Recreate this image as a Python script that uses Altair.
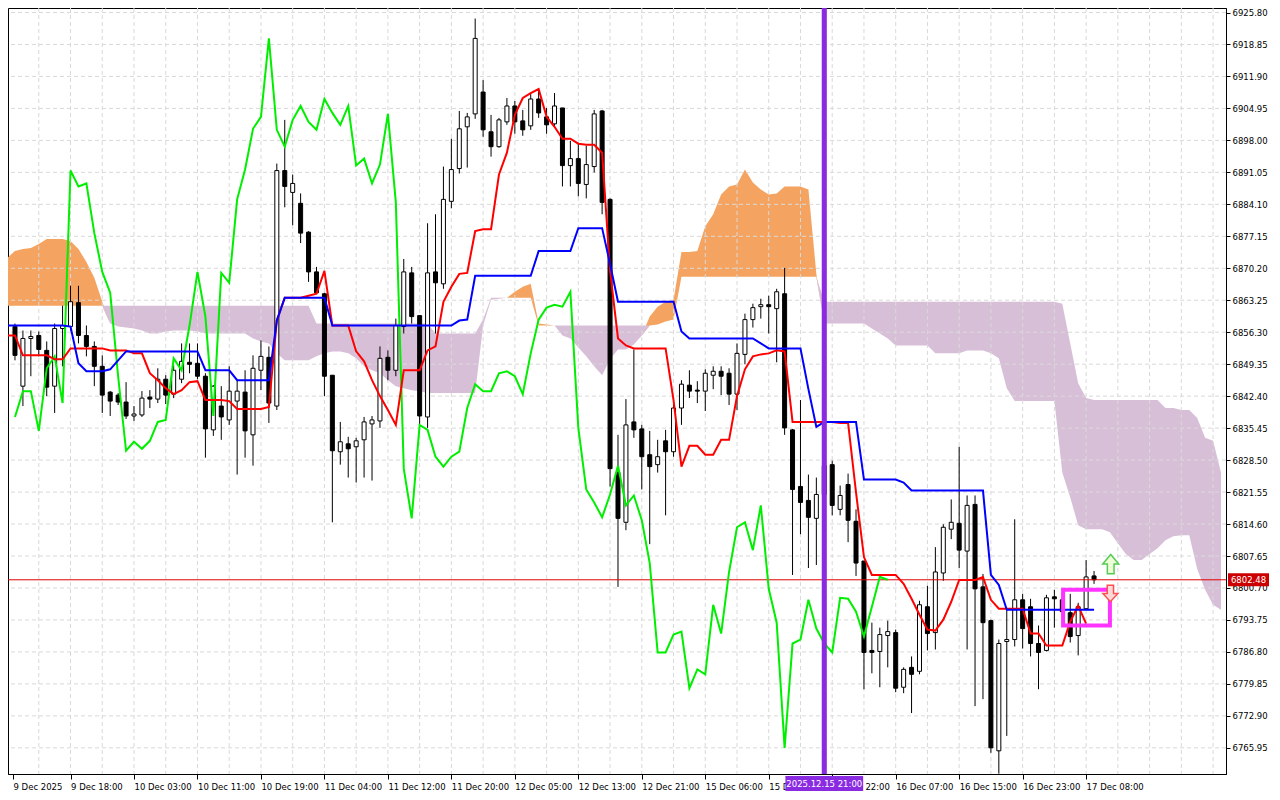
import altair as alt
import pandas as pd

# ---------------- data (hourly bars, index 1..137) ----------------
opens = [6857.53,6844.57,6854.94,6855.59,6852.35,6844.57,6857.10,6857.53,6862.72,6855.59,
6853.21,6848.89,6843.28,6842.63,6841.12,6838.09,6838.31,6842.20,6841.76,6846.08,
6842.84,6846.08,6849.76,6849.54,6846.73,6835.07,6840.25,6837.23,6841.33,6843.28,
6833.99,6848.03,6850.84,6840.25,6891.44,6886.69,6884.32,6878.05,6869.41,6864.66,
6846.95,6830.32,6832.04,6831.40,6832.91,6836.36,6837.01,6850.84,6848.03,6857.53,
6869.20,6859.91,6837.88,6869.41,6866.82,6884.75,6891.88,6900.95,6903.76,6908.51,
6899.87,6896.63,6902.03,6905.48,6902.24,6901.16,6907.00,6903.11,6901.60,6905.05,
6892.52,6894.04,6888.42,6892.31,6904.40,6885.18,6825.78,6814.98,6836.80,6835.28,
6829.67,6827.51,6832.69,6830.32,6839.82,6844.79,6843.71,6843.49,6846.95,6847.81,
6847.38,6842.84,6851.48,6859.04,6861.85,6862.28,6861.42,6864.66,6835.07,6822.76,
6819.73,6815.84,6821.03,6827.51,6817.79,6823.19,6815.20,6806.56,6787.12,6786.90,
6790.36,6791.00,6779.12,6783.44,6782.58,6796.62,6791.00,6803.96,6813.47,6814.76,
6808.72,6818.87,6800.94,6793.60,6765.30,6789.06,6789.49,6798.13,6796.62,6788.63,
6787.12,6798.78,6798.13,6795.32,6790.36,6796.19,6803.32]
highs = [6858.18,6856.67,6856.67,6856.45,6854.29,6858.18,6862.07,6866.39,6866.39,6857.75,
6854.29,6851.27,6843.49,6843.06,6845.44,6840.25,6843.49,6843.71,6848.46,6846.95,
6849.11,6853.86,6853.86,6853.86,6847.38,6844.79,6844.57,6848.89,6845.87,6848.03,
6851.27,6854.51,6853.21,6892.96,6902.46,6890.58,6886.48,6878.27,6870.49,6864.88,
6846.95,6836.80,6833.56,6833.34,6837.88,6838.09,6853.21,6852.35,6859.26,6872.22,
6870.49,6859.91,6879.99,6881.94,6892.31,6898.36,6904.40,6903.97,6924.49,6911.10,
6903.54,6902.89,6907.21,6906.56,6904.62,6908.08,6908.72,6905.05,6908.29,6905.05,
6897.92,6897.28,6896.84,6904.62,6904.62,6885.40,6833.99,6841.76,6852.56,6836.15,
6834.85,6832.91,6835.07,6841.12,6845.87,6848.03,6845.65,6848.24,6848.89,6848.89,
6848.46,6853.86,6860.34,6862.50,6863.58,6864.23,6865.74,6870.28,6835.28,6841.55,
6825.35,6824.70,6829.02,6828.37,6822.97,6825.56,6817.79,6806.56,6793.16,6792.08,
6793.60,6791.65,6783.44,6785.82,6797.92,6801.16,6809.58,6814.55,6819.95,6831.40,
6820.81,6820.81,6803.75,6793.81,6789.49,6796.19,6815.63,6799.43,6798.35,6792.52,
6799.21,6800.29,6799.43,6799.43,6797.48,6806.77,6804.40]
lows = [6850.19,6840.25,6846.73,6851.05,6842.41,6838.74,6848.89,6856.67,6853.86,6851.05,
6844.57,6838.74,6838.09,6840.47,6837.44,6837.01,6837.88,6839.82,6840.90,6840.68,
6841.98,6845.22,6847.38,6846.08,6829.02,6833.77,6832.91,6836.15,6825.35,6829.02,
6827.29,6843.71,6836.58,6839.39,6883.45,6879.56,6875.68,6867.25,6864.66,6842.41,
6814.98,6827.51,6824.70,6823.62,6824.70,6824.05,6835.50,6845.87,6846.73,6856.02,
6858.18,6836.36,6835.50,6856.02,6865.74,6883.24,6890.80,6892.09,6902.68,6898.79,
6894.47,6896.41,6901.38,6899.44,6899.00,6900.30,6902.89,6899.44,6900.95,6887.99,
6887.99,6885.83,6885.40,6891.01,6881.94,6822.76,6800.94,6813.25,6833.34,6822.11,
6810.23,6825.78,6816.49,6829.24,6836.15,6841.98,6840.90,6839.17,6843.92,6842.63,
6840.47,6839.39,6849.32,6857.32,6859.26,6856.02,6849.76,6833.99,6803.53,6812.39,
6805.04,6805.69,6819.30,6816.49,6816.49,6810.66,6803.32,6778.69,6782.15,6779.12,
6783.44,6778.04,6777.83,6773.51,6781.93,6787.12,6787.33,6802.24,6811.31,6805.04,
6787.33,6775.02,6776.53,6764.87,6760.33,6768.54,6787.98,6787.55,6785.82,6778.69,
6786.90,6792.08,6794.24,6788.84,6786.04,6795.97,6801.59]
closes = [6851.27,6854.94,6855.37,6852.56,6844.36,6857.10,6857.75,6862.93,6855.59,6853.21,
6848.89,6842.63,6841.33,6841.12,6838.09,6838.52,6841.98,6841.76,6846.08,6842.63,
6848.03,6849.97,6849.32,6846.73,6835.28,6844.57,6837.88,6843.49,6843.49,6834.85,
6848.46,6851.05,6840.90,6891.44,6887.99,6888.64,6877.84,6869.41,6864.88,6846.73,
6830.53,6832.48,6830.96,6832.69,6836.80,6837.23,6850.62,6848.03,6857.75,6869.41,
6859.69,6838.09,6869.20,6867.04,6885.18,6891.66,6900.52,6903.11,6920.17,6900.30,
6896.63,6902.46,6905.48,6902.03,6900.30,6907.00,6903.97,6901.38,6905.48,6892.52,
6894.04,6888.64,6892.74,6903.76,6884.53,6826.64,6815.84,6836.15,6835.07,6829.24,
6827.08,6829.24,6830.32,6839.82,6845.00,6843.49,6843.49,6847.38,6847.81,6846.73,
6842.84,6851.70,6859.04,6861.64,6862.28,6861.85,6865.09,6835.50,6822.11,6819.30,
6816.06,6821.03,6827.29,6818.65,6820.81,6815.41,6806.12,6786.68,6786.68,6790.57,
6791.22,6778.91,6783.01,6781.93,6797.05,6790.79,6804.18,6813.90,6814.98,6808.93,
6818.65,6800.51,6793.16,6765.95,6788.63,6789.49,6798.13,6791.87,6788.63,6786.68,
6798.56,6798.35,6795.54,6790.14,6796.62,6803.10,6802.48]

# Tenkan-sen, bars 0..136
tenkan = [6855.59,6855.59,6851.27,6851.27,6851.27,6851.27,6850.40,6850.40,6852.78,6852.78,
6852.78,6852.78,6852.78,6852.35,6852.35,6852.35,6851.70,6851.70,6847.38,6845.87,
6844.14,6842.84,6843.71,6845.44,6845.65,6841.55,6841.55,6841.55,6841.33,6839.60,
6839.60,6839.60,6839.60,6840.04,6858.83,6863.80,6863.80,6863.80,6864.23,6864.66,
6869.63,6857.75,6857.75,6857.75,6852.13,6849.97,6845.87,6842.41,6839.39,6836.15,
6848.03,6848.03,6848.03,6852.35,6853.21,6862.93,6866.17,6868.98,6869.20,6878.27,
6878.70,6878.70,6890.58,6895.33,6903.54,6907.21,6908.29,6909.16,6903.11,6900.95,
6898.36,6898.36,6897.28,6897.06,6897.06,6895.33,6869.63,6854.94,6853.43,6852.78,
6852.78,6852.78,6852.78,6852.78,6841.55,6827.08,6831.61,6831.61,6829.67,6829.67,
6832.91,6832.91,6842.41,6848.24,6851.05,6851.48,6851.70,6852.35,6852.13,6836.80,
6836.80,6836.80,6836.80,6836.80,6836.80,6836.58,6836.58,6821.46,6807.42,6803.53,
6803.53,6803.53,6803.53,6801.59,6798.35,6794.89,6791.65,6791.44,6793.81,6797.70,
6802.45,6802.45,6802.45,6803.10,6798.13,6796.19,6796.19,6796.19,6796.19,6790.79,
6790.79,6788.20,6788.20,6788.20,6793.38,6796.84,6792.95]

# Kijun-sen, bars 0..137
kijun = [6857.75,6857.75,6857.75,6857.75,6857.75,6857.75,6857.75,6857.75,6857.53,6849.54,
6847.81,6847.81,6847.81,6848.24,6850.19,6852.13,6852.13,6852.13,6852.13,6852.13,
6852.13,6852.13,6852.13,6852.13,6852.13,6848.03,6848.03,6848.03,6848.03,6845.87,
6845.87,6845.87,6845.87,6845.87,6858.83,6863.80,6863.80,6863.80,6863.80,6863.80,
6863.80,6857.75,6857.75,6857.75,6857.75,6857.75,6857.75,6857.75,6857.75,6857.75,
6857.75,6857.75,6857.75,6857.75,6857.75,6857.75,6857.75,6858.83,6859.04,6868.55,
6868.55,6868.55,6868.55,6868.55,6868.55,6868.55,6868.55,6873.95,6873.95,6873.95,
6873.95,6873.95,6878.92,6878.92,6878.92,6878.92,6871.14,6862.93,6862.93,6862.93,
6862.93,6862.93,6862.93,6862.93,6862.93,6856.45,6854.94,6854.94,6854.94,6854.94,
6854.94,6854.94,6854.94,6854.94,6854.94,6853.86,6852.78,6852.78,6852.78,6852.78,
6852.78,6843.92,6835.72,6836.80,6836.80,6836.80,6836.80,6836.80,6824.27,6824.27,
6824.27,6824.27,6824.27,6823.62,6821.89,6821.89,6821.89,6821.89,6821.89,6821.89,
6821.89,6821.89,6821.89,6821.89,6803.53,6801.37,6795.97,6795.97,6795.97,6795.97,
6795.97,6795.97,6795.97,6795.97,6795.97,6795.97,6795.97,6795.97]

# Senkou span A / B (already shifted forward), bars 0..153
span_a = [6872.44,6873.95,6874.38,6874.60,6875.46,6876.54,6876.54,6876.54,6876.11,6874.38,
6871.57,6868.12,6862.93,6858.18,6857.53,6857.32,6857.10,6856.67,6856.02,6856.02,
6856.45,6856.67,6856.67,6856.67,6856.45,6856.02,6856.02,6856.02,6856.02,6856.02,
6856.02,6854.94,6854.29,6853.86,6851.70,6850.19,6850.19,6850.19,6850.19,6851.05,
6851.70,6852.13,6852.13,6851.70,6850.62,6848.89,6848.03,6847.38,6845.87,6844.57,
6844.14,6843.71,6843.49,6843.06,6843.06,6843.06,6843.06,6843.06,6843.06,6843.06,
6857.75,6863.36,6863.58,6863.80,6865.09,6866.17,6866.82,6858.18,6857.96,6857.75,
6855.59,6854.94,6853.00,6851.05,6848.89,6846.95,6850.40,6852.56,6852.56,6853.64,
6855.59,6859.69,6861.85,6862.93,6863.36,6873.73,6873.73,6873.95,6879.35,6881.94,
6886.26,6887.99,6888.42,6891.66,6888.85,6887.34,6886.26,6886.48,6887.99,6887.99,
6887.99,6887.34,6868.98,6858.18,6858.18,6858.18,6858.18,6858.18,6858.18,6857.10,
6856.02,6854.94,6853.43,6853.43,6853.43,6853.43,6853.43,6851.70,6851.70,6851.70,
6851.70,6852.35,6852.35,6852.35,6851.70,6850.62,6844.14,6841.33,6841.33,6841.33,
6841.33,6841.33,6841.33,6825.78,6820.38,6814.33,6813.47,6813.47,6813.47,6812.82,
6810.44,6808.07,6806.77,6806.77,6808.07,6809.36,6811.09,6811.96,6812.17,6812.17,
6804.83,6800.29,6797.05,6795.97]
span_b = [6862.07,6862.07,6862.07,6862.07,6862.07,6862.07,6862.07,6862.07,6862.07,6862.07,
6862.07,6862.07,6862.07,6862.07,6862.07,6862.07,6862.07,6862.07,6862.07,6862.07,
6862.07,6862.07,6862.07,6862.07,6862.07,6862.07,6862.07,6862.07,6862.07,6862.07,
6862.07,6862.07,6862.07,6862.07,6862.07,6862.07,6862.07,6862.07,6862.07,6858.18,
6858.18,6858.18,6858.18,6858.18,6858.18,6858.18,6858.18,6858.18,6858.18,6858.18,
6858.18,6858.18,6858.18,6858.18,6856.02,6856.02,6856.02,6856.02,6856.02,6856.02,
6859.04,6863.80,6863.80,6863.80,6863.80,6863.80,6863.80,6857.75,6857.75,6857.75,
6857.75,6857.75,6857.75,6857.75,6857.75,6857.75,6857.75,6857.75,6857.75,6857.75,
6857.75,6857.75,6857.96,6858.61,6859.04,6868.33,6868.33,6868.33,6868.33,6868.33,
6868.33,6868.33,6868.33,6868.33,6868.33,6868.33,6868.33,6868.33,6868.33,6868.33,
6868.33,6868.33,6868.33,6862.93,6862.93,6862.93,6862.93,6862.93,6862.93,6862.93,
6862.93,6862.93,6862.93,6862.93,6862.93,6862.93,6862.93,6862.93,6862.93,6862.93,
6862.93,6862.93,6862.93,6862.93,6862.93,6862.93,6862.93,6862.93,6862.93,6862.93,
6862.93,6862.93,6862.93,6862.50,6853.86,6845.22,6841.98,6841.55,6841.55,6841.55,
6841.55,6841.55,6841.55,6841.55,6841.55,6841.55,6839.82,6839.82,6839.39,6839.39,
6837.66,6833.34,6832.69,6825.78]

y_ticks = [6765.95,6772.90,6779.85,6786.80,6793.75,6800.70,6807.65,6814.60,6821.55,6828.50,
6835.45,6842.40,6849.35,6856.30,6863.25,6870.20,6877.15,6884.10,6891.05,6898.00,
6904.95,6911.90,6918.85,6925.80]
x_tick_idx = [0.75, 8, 16, 24, 32, 40, 48, 56, 64, 72, 80, 88, 96, 104, 112, 120, 128, 136]
x_tick_labels = ["9 Dec 2025", "9 Dec 18:00", "10 Dec 03:00", "10 Dec 11:00", "10 Dec 19:00",
                 "11 Dec 04:00", "11 Dec 12:00", "11 Dec 20:00", "12 Dec 05:00", "12 Dec 13:00",
                 "12 Dec 21:00", "15 Dec 06:00", "15 Dec 14:00", "15 Dec 22:00", "16 Dec 07:00",
                 "16 Dec 15:00", "16 Dec 23:00", "17 Dec 08:00"]
x_grid_idx = list(range(4, 154, 4))

last_price = 6802.48
marker_idx = 103
marker_text = "2025.12.15 21:00"
box = {"i0": 133.1, "i1": 139.0, "p_top": 6800.29, "p_bot": 6792.52}
arrow_up = {"i": 139.1, "p": 6805.9}
arrow_dn = {"i": 139.06, "p": 6799.5}

# ---------------- frames ----------------
candles = pd.DataFrame({"i": list(range(1, len(opens) + 1)), "open": opens, "high": highs,
                        "low": lows, "close": closes})
chik = pd.DataFrame({"i": candles["i"], "v": candles["close"].shift(-26)}).dropna()
tk = pd.DataFrame({"i": list(range(len(tenkan))), "v": tenkan})
kj = pd.DataFrame({"i": list(range(len(kijun))), "v": kijun})
cloud = pd.DataFrame({"i": list(range(len(span_a))), "a": span_a, "b": span_b})
cloud["lo"] = cloud[["a", "b"]].min(axis=1)

W, H = 1218, 766
FONT = "DejaVu Sans"
xs = alt.Scale(domain=[0.75, 153], nice=False, zero=False)
ys = alt.Scale(domain=[6760.26, 6926.78], nice=False, zero=False)

label_expr = "[" + ",".join("'%s'" % t for t in x_tick_labels) + "][round(datum.value/8)]"
x_axis = alt.Axis(orient="bottom", values=x_tick_idx, labelExpr=label_expr, labelAlign="left",
                  labelPadding=3, tickSize=5, tickColor="black", domainColor="black",
                  labelColor="black", labelFont=FONT, labelFontSize=8.5, labelOverlap=False,
                  labelFlush=False, grid=False, title=None)
y_axis = alt.Axis(orient="right", values=y_ticks, format=".2f", tickSize=4, tickColor="black",
                  domainColor="black", labelColor="black", labelFont=FONT, labelFontSize=8.5,
                  labelPadding=2, labelOverlap=False, labelFlush=False, grid=False, title=None)


def X(f="i"):
    return alt.X(f, type="quantitative", scale=xs, axis=x_axis, title=None)


def Y(f):
    return alt.Y(f, type="quantitative", scale=ys, axis=y_axis, title=None)


orange = alt.Chart(cloud).mark_area(color="#F4A460", opacity=1, clip=True).encode(
    x=X(), y=Y("a"), y2=alt.Y2("lo"))
thistle = alt.Chart(cloud).mark_area(color="#D8BFD8", opacity=1, clip=True).encode(
    x=X(), y=Y("b"), y2=alt.Y2("lo"))

grid_x = alt.Chart(pd.DataFrame({"i": x_grid_idx})).mark_rule(
    color="#d9d9d9", strokeDash=[4, 3], strokeWidth=1).encode(x=X())
grid_y = alt.Chart(pd.DataFrame({"p": y_ticks})).mark_rule(
    color="#d9d9d9", strokeDash=[4, 3], strokeWidth=1).encode(y=Y("p"))

wicks = alt.Chart(candles).mark_rule(color="black", strokeWidth=1).encode(
    x=X(), y=Y("low"), y2=alt.Y2("high"))
bodies = alt.Chart(candles).mark_bar(size=4, stroke="black", strokeWidth=1).encode(
    x=X(), y=Y("open"), y2=alt.Y2("close"),
    fill=alt.condition("datum.close >= datum.open", alt.value("white"), alt.value("black")))

price_line = alt.Chart(pd.DataFrame({"p": [last_price]})).mark_rule(
    color="#e00000", strokeWidth=1).encode(y=Y("p"))

chikou_l = alt.Chart(chik).mark_line(color="#00ee00", strokeWidth=2, clip=True).encode(x=X(), y=Y("v"))
tenkan_l = alt.Chart(tk).mark_line(color="#ff0000", strokeWidth=2, clip=True).encode(x=X(), y=Y("v"))
kijun_l = alt.Chart(kj).mark_line(color="#0000ff", strokeWidth=2, clip=True).encode(x=X(), y=Y("v"))

vl_df = pd.DataFrame({"a": [marker_idx - 0.32], "b": [marker_idx + 0.32]})
vline = alt.Chart(vl_df).mark_rect(color="#8a2be2").encode(
    x=X("a"), x2=alt.X2("b"), y=alt.value(0), y2=alt.value(H))

box_df = pd.DataFrame([box])
mbox = alt.Chart(box_df).mark_rect(fill=None, fillOpacity=0, stroke="#ff33ff", strokeWidth=4).encode(
    x=X("i0"), x2=alt.X2("i1"), y=Y("p_top"), y2=alt.Y2("p_bot"))

up_path = "M -0.42 1.2 L -0.42 0 L -1 0 L 0 -1.2 L 1 0 L 0.42 0 L 0.42 1.2 Z"
dn_path = "M -0.42 -1.1 L -0.42 0 L -1 0 L 0 1.1 L 1 0 L 0.42 0 L 0.42 -1.1 Z"
a_up = alt.Chart(pd.DataFrame([arrow_up])).mark_point(
    shape=up_path, size=256, filled=True, fill="#eeffd8", stroke="#55cc55", strokeWidth=1.5,
    opacity=1).encode(x=X(), y=Y("p"))
a_dn = alt.Chart(pd.DataFrame([arrow_dn])).mark_point(
    shape=dn_path, size=225, filled=True, fill="#ffd8d8", stroke="#ff5050", strokeWidth=1.5,
    opacity=1).encode(x=X(), y=Y("p"))

plab_df = pd.DataFrame({"p": [last_price], "hi": [last_price + 1.4], "lo": [last_price - 1.4],
                        "t": ["%.2f" % last_price]})
plab_rect = alt.Chart(plab_df).mark_rect(color="#cc0000").encode(
    x=alt.value(W + 2), x2=alt.value(W + 43), y=Y("hi"), y2=alt.Y2("lo"))
plab_text = alt.Chart(plab_df).mark_text(color="white", font=FONT, fontSize=8.5, align="center",
                                         baseline="middle").encode(
    x=alt.value(W + 22.5), y=Y("p"), text="t:N")

mk_df = pd.DataFrame({"i": [marker_idx], "a": [marker_idx - 4.9], "b": [marker_idx + 4.9],
                      "t": [marker_text]})
mk_rect = alt.Chart(mk_df).mark_rect(color="#8a2be2").encode(
    x=X("a"), x2=alt.X2("b"), y=alt.value(H + 2), y2=alt.value(H + 17))
mk_text = alt.Chart(mk_df).mark_text(color="white", font=FONT, fontSize=8.5, align="center",
                                     baseline="middle").encode(
    x=X("i"), y=alt.value(H + 9.5), text="t:N")

chart = alt.layer(
    orange, thistle, grid_x, grid_y, wicks, bodies, price_line,
    chikou_l, tenkan_l, kijun_l, vline, mbox, a_up, a_dn,
    plab_rect, plab_text, mk_rect, mk_text
).properties(
    width=W, height=H, background="white",
    autosize=alt.AutoSizeParams(type="none"),
    padding={"left": 0, "top": 0, "right": 46, "bottom": 18},
).configure_view(stroke="black", strokeWidth=1)

chart.save("out.html", embed_options={"renderer": "svg", "actions": False})
